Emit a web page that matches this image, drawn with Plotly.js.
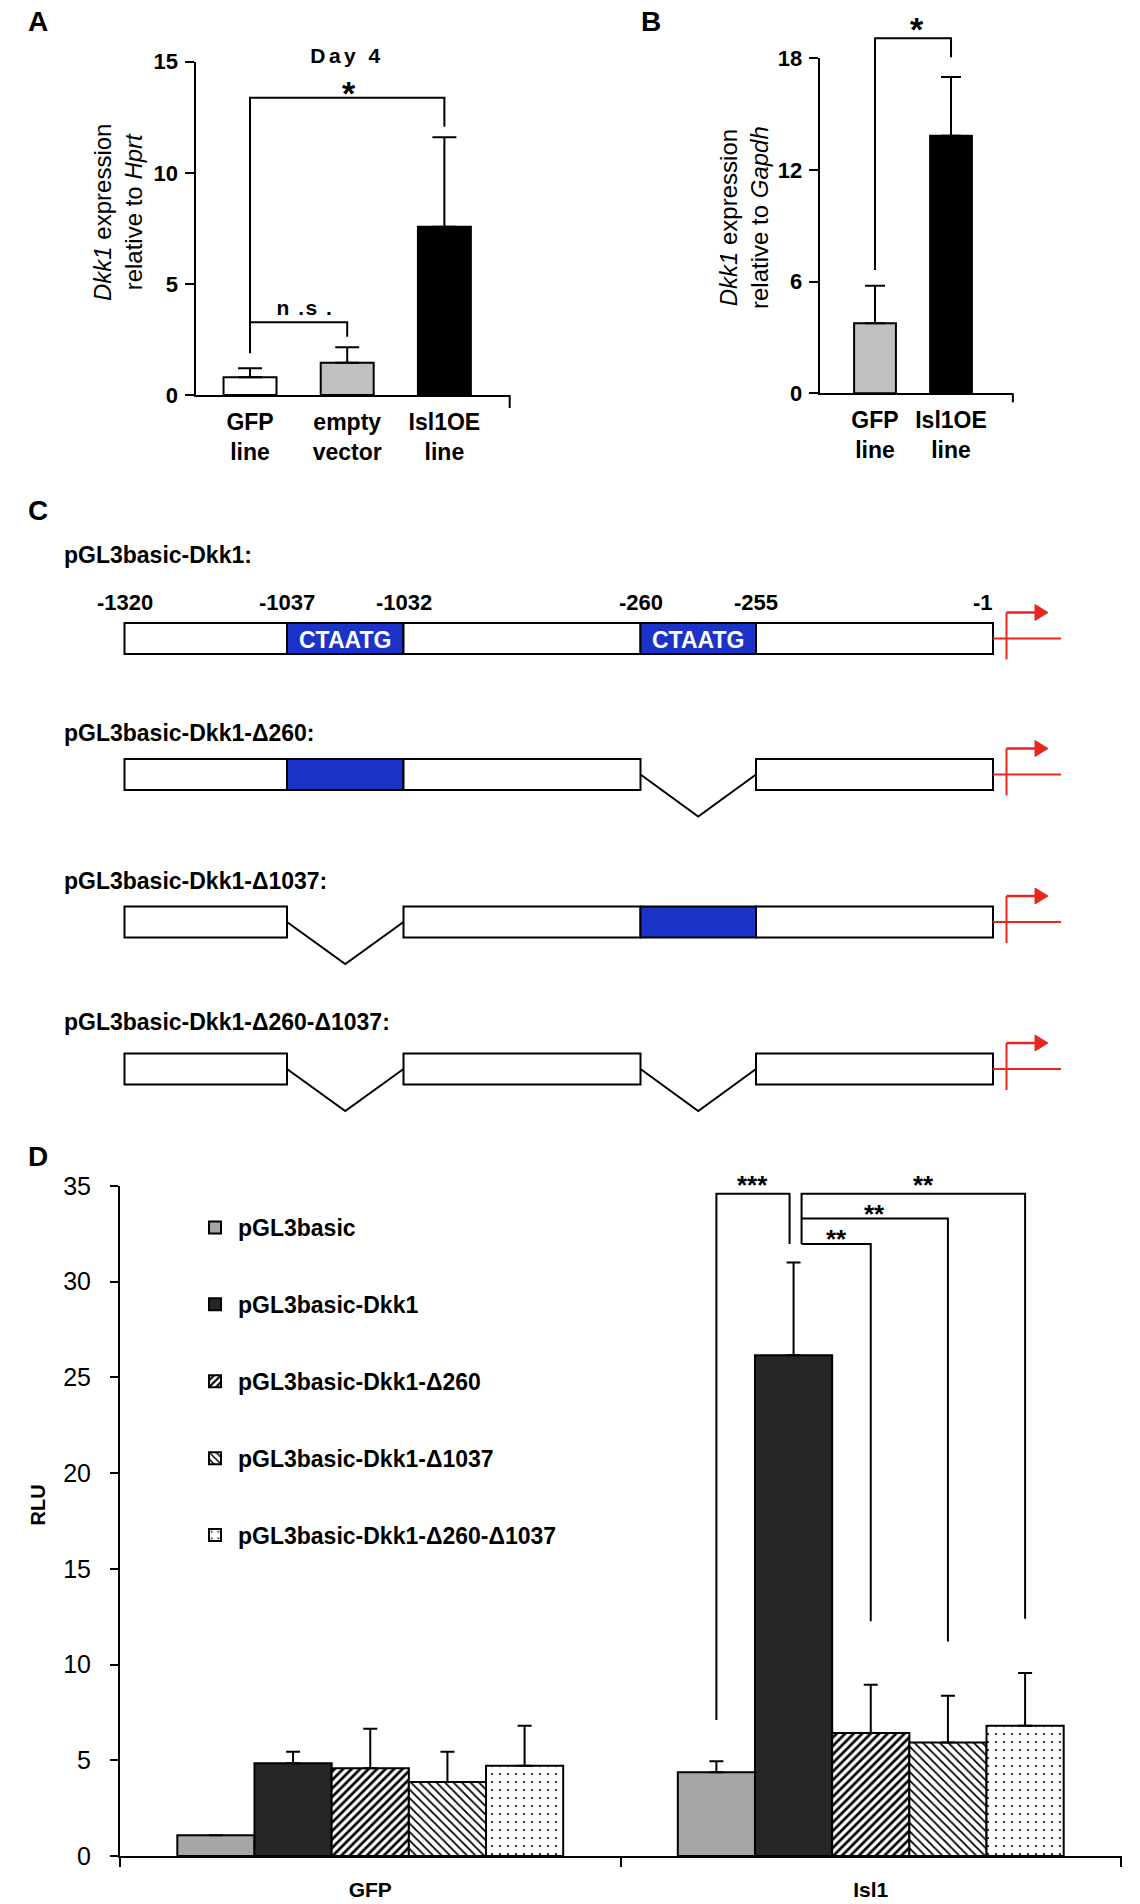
<!DOCTYPE html>
<html>
<head>
<meta charset="utf-8">
<script src="https://cdn.plot.ly/plotly-3.0.1.min.js"></script>
<style>
html,body{margin:0;padding:0;background:#fff;}
#chart{width:1140px;height:1904px;}
</style>
</head>
<body>
<div id="chart"></div>
<script>
// ---------------- DATA ----------------
// Panel A
const aCategories = ['GFP<br>line', 'empty<br>vector', 'Isl1OE<br>line'];
const aMeans = [0.8, 1.45, 7.57];
const aSem = [0.4, 0.7, 4.03];
const aTicks = [0, 5, 10, 15];
const aTitle = '<i>Dkk1</i> expression<br>relative to <i>Hprt</i>';
const aHeader = 'Day 4';
const aSigLabels = ['*', 'n .s .'];

// Panel B
const bCategories = ['GFP<br>line', 'Isl1OE<br>line'];
const bMeans = [3.76, 13.84];
const bSem = [2.02, 3.16];
const bTicks = [0, 6, 12, 18];
const bTitle = '<i>Dkk1</i> expression<br>relative to <i>Gapdh</i>';
const bSigLabels = ['*'];

// Panel C
const cConstructs = ['pGL3basic-Dkk1:', 'pGL3basic-Dkk1-Δ260:', 'pGL3basic-Dkk1-Δ1037:', 'pGL3basic-Dkk1-Δ260-Δ1037:'];
const cPositions = ['-1320', '-1037', '-1032', '-260', '-255', '-1'];
const cMotif = 'CTAATG';
const cDeletedSegments = [[], [3], [1], [1, 3]];

// Panel D
const dGroups = ['GFP', 'Isl1'];
const dSeries = ['pGL3basic', 'pGL3basic-Dkk1', 'pGL3basic-Dkk1-Δ260', 'pGL3basic-Dkk1-Δ1037', 'pGL3basic-Dkk1-Δ260-Δ1037'];
const dGFP = [1.08, 4.85, 4.59, 3.87, 4.71];
const dIsl1 = [4.38, 26.16, 6.42, 5.93, 6.80];
const dGFPSem = [0, 0.59, 2.06, 1.57, 2.09];
const dIsl1Sem = [0.57, 4.84, 2.53, 2.44, 2.76];
const dTicks = [0, 5, 10, 15, 20, 25, 30, 35];
const dSigLabels = ['***', '**', '**', '**'];

// ---------------- LAYOUT HELPERS ----------------
const W = 1140, H = 1904;
const px = x => x / W;
const py = y => 1 - y / H;
const FONT = 'Liberation Sans, Arial, Helvetica, sans-serif';

const axA = {x: {domain: [px(195.5), px(509.7)], range: [-0.561, 2.672]}, y: {domain: [py(395), py(61.7)], range: [0, 15]}};
const axB = {x: {domain: [px(819.6), px(1012.9)], range: [-0.729, 1.814]}, y: {domain: [py(393.3), py(58.3)], range: [0, 18]}};
const axD = {x: {domain: [px(120), px(1121)], range: [-0.5, 1.5]}, y: {domain: [py(1856), py(1186)], range: [0, 35]}};

function mx(ax, v) { return ax.x.domain[0] + (v - ax.x.range[0]) / (ax.x.range[1] - ax.x.range[0]) * (ax.x.domain[1] - ax.x.domain[0]); }
function my(ax, v) { return ax.y.domain[0] + (v - ax.y.range[0]) / (ax.y.range[1] - ax.y.range[0]) * (ax.y.domain[1] - ax.y.domain[0]); }
const pxW = 1 / W, pxH = 1 / H;

const shapes = [];
const annotations = [];
function line(path, color, width) {
  shapes.push({type: 'path', xref: 'paper', yref: 'paper', path: path, line: {color: color || '#000', width: width || 2}, layer: 'above'});
}
function label(x, y, text, size, opts) {
  annotations.push(Object.assign({xref: 'paper', yref: 'paper', x: x, y: y, text: text, showarrow: false,
    xanchor: 'center', yanchor: 'middle', font: {family: FONT, size: size, color: '#000'}}, opts || {}));
}
const P = (x, y) => x + ',' + y;

// ---------------- TRACES ----------------
const traces = [];
traces.push({type: 'bar', x: aCategories, y: aMeans, xaxis: 'x', yaxis: 'y', width: 0.545, showlegend: false,
  marker: {color: ['#ffffff', '#c0c0c0', '#000000'], line: {color: '#000', width: 2}},
  error_y: {type: 'data', symmetric: false, array: aSem, arrayminus: aSem.map(() => 0), color: '#000', thickness: 2, width: 12}});
traces.push({type: 'bar', x: bCategories, y: bMeans, xaxis: 'x2', yaxis: 'y2', width: 0.55, showlegend: false,
  marker: {color: ['#c0c0c0', '#000000'], line: {color: '#000', width: 2}},
  error_y: {type: 'data', symmetric: false, array: bSem, arrayminus: bSem.map(() => 0), color: '#000', thickness: 2, width: 10}});

const dStyles = [
  {color: '#a6a6a6'},
  {color: '#262626'},
  {color: '#ffffff', pattern: {shape: '/', fgcolor: '#000', bgcolor: '#fff', size: 6, solidity: 0.45}},
  {color: '#ffffff', pattern: {shape: '\\', fgcolor: '#000', bgcolor: '#fff', size: 6, solidity: 0.3}},
  {color: '#ffffff', pattern: {shape: '.', fgcolor: '#000', bgcolor: '#fff', size: 8, solidity: 0.06}}
];
dSeries.forEach((name, i) => {
  traces.push({type: 'bar', name: name, x: dGroups, y: [dGFP[i], dIsl1[i]], xaxis: 'x4', yaxis: 'y4',
    legendgroup: 'g' + i,
    marker: Object.assign({line: {color: '#000', width: 2}}, dStyles[i]),
    error_y: {type: 'data', symmetric: false, array: [dGFPSem[i], dIsl1Sem[i]], arrayminus: [0, 0], color: '#000', thickness: 2, width: 7}});
});

// ---------------- PANEL A decorations ----------------
label(px(38), py(22), '<b>A</b>', 28);
label(mx(axA, 1), py(55), '<b>' + aHeader + '</b>', 21);
label(px(118), py(213), aTitle, 24, {textangle: -90});
{
  const xg = mx(axA, 0), xe = mx(axA, 1), xi = mx(axA, 2);
  line('M' + P(xg, my(axA, 1.88)) + ' V' + my(axA, 13.38) + ' H' + xi + ' V' + my(axA, 12.07));
  line('M' + P(xg, my(axA, 3.27)) + ' H' + xe + ' V' + my(axA, 2.62));
  label(xe + 2 * pxW, my(axA, 13.38) + 5 * pxH, '<b>' + aSigLabels[0] + '</b>', 34);
  label((xg + xe) / 2 + 6 * pxW, my(axA, 3.27) + 15 * pxH, '<b>' + aSigLabels[1] + '</b>', 21);
  line('M' + P(axA.x.domain[1], axA.y.domain[0]) + ' V' + (axA.y.domain[0] - 13 * pxH));
}

// ---------------- PANEL B decorations ----------------
label(px(651), py(22), '<b>B</b>', 28);
label(px(744), py(218), bTitle, 24, {textangle: -90});
{
  const xg = mx(axB, 0), xi = mx(axB, 1);
  line('M' + P(xg, my(axB, 6.63)) + ' V' + my(axB, 19.08) + ' H' + xi + ' V' + my(axB, 18.05));
  label((xg + xi) / 2 + 4 * pxW, my(axB, 19.08) + 9 * pxH, '<b>' + bSigLabels[0] + '</b>', 34);
  line('M' + P(axB.x.domain[1], axB.y.domain[0]) + ' V' + (axB.y.domain[0] - 9 * pxH));
}

// ---------------- PANEL C (schematic) ----------------
label(px(38), py(511), '<b>C</b>', 28);
{
  const bounds = [124.5, 287, 403.5, 640.5, 756, 993];   // schematic pixel layout of the 5 promoter segments
  const mids = [638.5, 774.5, 922, 1069];
  const labelY = [555, 733, 881, 1022];
  const hBox = 31, vDepth = 42;
  const BLUE = '#1b33c9', RED = '#e8261e';
  cConstructs.forEach((name, r) => {
    const m = mids[r];
    label(px(62), py(labelY[r]), '<b>' + name + '</b>', 23, {xanchor: 'left'});
    for (let s = 0; s < 5; s++) {
      const x0 = bounds[s], x1 = bounds[s + 1];
      if (cDeletedSegments[r].indexOf(s) >= 0) {
        line('M' + P(px(x0), py(m)) + ' L' + P(px((x0 + x1) / 2), py(m + vDepth)) + ' L' + P(px(x1), py(m)));
        continue;
      }
      const motif = (s === 1 || s === 3);
      shapes.push({type: 'rect', xref: 'paper', yref: 'paper', x0: px(x0), x1: px(x1), y0: py(m + hBox / 2), y1: py(m - hBox / 2),
        fillcolor: motif ? BLUE : '#fff', line: {color: '#000', width: 2}, layer: 'above'});
      if (motif && r === 0) {
        label(px((x0 + x1) / 2), py(m + 1), '<b>' + cMotif + '</b>', 23, {font: {family: FONT, size: 23, color: '#fff'}});
      }
    }
    // red transcription start arrow
    const ax = 1006.5;
    line('M' + P(px(ax), py(m - 26)) + ' V' + py(m + 21), RED, 2);
    line('M' + P(px(bounds[5]), py(m)) + ' H' + px(1061), RED, 2);
    line('M' + P(px(ax), py(m - 26)) + ' H' + px(1038), RED, 2.5);
    shapes.push({type: 'path', xref: 'paper', yref: 'paper', layer: 'above',
      path: 'M' + P(px(1035), py(m - 34)) + ' L' + P(px(1048), py(m - 26)) + ' L' + P(px(1035), py(m - 18)) + ' Z',
      fillcolor: RED, line: {color: RED, width: 1}});
  });
  cPositions.forEach((t, i) => {
    const last = i === cPositions.length - 1;
    label(px(last ? bounds[i] + 2 : bounds[i]), py(602), '<b>' + t + '</b>', 22, last ? {xanchor: 'right'} : {});
  });
}

// ---------------- PANEL D decorations ----------------
label(px(38), py(1156), '<b>D</b>', 28);
label(px(37.5), py(1505), '<b>RLU</b>', 20, {textangle: -90});
{
  const bargap = 0.229;
  const bw = (1 - bargap) / dSeries.length;
  const cx = (g, i) => mx(axD, g - (1 - bargap) / 2 + (i + 0.5) * bw);
  const x0 = cx(1, 0), x1 = cx(1, 1) - 4 * pxW, x1b = cx(1, 1) + 8 * pxW;
  const yTop = my(axD, 34.6), yMid = my(axD, 33.3), yLow = my(axD, 31.97);
  line('M' + P(x0, my(axD, 7.1)) + ' V' + yTop + ' H' + x1 + ' V' + yLow);
  line('M' + P(x1b, yLow) + ' V' + yTop + ' H' + cx(1, 4) + ' V' + my(axD, 12.39));
  line('M' + P(x1b, yMid) + ' H' + cx(1, 3) + ' V' + my(axD, 11.21));
  line('M' + P(x1b, yLow) + ' H' + cx(1, 2) + ' V' + my(axD, 12.26));
  label((x0 + x1) / 2, yTop + 9 * pxH, '<b>' + dSigLabels[0] + '</b>', 26);
  label((x1b + cx(1, 4)) / 2 + 10 * pxW, yTop + 9 * pxH, '<b>' + dSigLabels[1] + '</b>', 26);
  label((x1b + cx(1, 3)) / 2, yMid + 5 * pxH, '<b>' + dSigLabels[2] + '</b>', 26);
  label((x1b + cx(1, 2)) / 2, yLow + 5 * pxH, '<b>' + dSigLabels[3] + '</b>', 26);
  line('M' + P(axD.x.domain[1], axD.y.domain[0]) + ' V' + (axD.y.domain[0] - 9 * pxH));
}

// ---------------- AXES ----------------
const baseAx = {showgrid: false, zeroline: false, showline: true, linecolor: '#000', linewidth: 2, fixedrange: true,
  tickcolor: '#000', tickwidth: 2};
const layout = {
  width: W, height: H, margin: {l: 0, r: 0, t: 0, b: 0}, paper_bgcolor: '#fff', plot_bgcolor: 'rgba(0,0,0,0)',
  barmode: 'group', bargap: 0.229, bargroupgap: 0, showlegend: true,
  font: {family: FONT, color: '#000'},
  xaxis: Object.assign({}, baseAx, {domain: axA.x.domain, range: axA.x.range, type: 'category', anchor: 'y', ticks: '',
    tickfont: {family: FONT, size: 23, weight: 'bold'}, ticklabelstandoff: 5}),
  yaxis: Object.assign({}, baseAx, {domain: axA.y.domain, range: axA.y.range, anchor: 'x', tickvals: aTicks, ticks: 'outside', ticklen: 9,
    tickfont: {family: FONT, size: 22, weight: 'bold'}, ticklabelstandoff: 2}),
  xaxis2: Object.assign({}, baseAx, {domain: axB.x.domain, range: axB.x.range, type: 'category', anchor: 'y2', ticks: '',
    tickfont: {family: FONT, size: 23, weight: 'bold'}, ticklabelstandoff: 5}),
  yaxis2: Object.assign({}, baseAx, {domain: axB.y.domain, range: axB.y.range, anchor: 'x2', tickvals: bTicks, ticks: 'outside', ticklen: 9,
    tickfont: {family: FONT, size: 22, weight: 'bold'}, ticklabelstandoff: 2}),
  xaxis4: Object.assign({}, baseAx, {domain: axD.x.domain, range: axD.x.range, type: 'category', anchor: 'y4', ticks: 'outside', ticklen: 9,
    tickson: 'boundaries', tickfont: {family: FONT, size: 21, weight: 'bold'}, ticklabelstandoff: 14}),
  yaxis4: Object.assign({}, baseAx, {domain: axD.y.domain, range: axD.y.range, anchor: 'x4', tickvals: dTicks, ticks: 'outside', ticklen: 8,
    tickfont: {family: FONT, size: 25}, ticklabelstandoff: 14}),
  legend: {x: px(192), y: py(1206), xanchor: 'left', yanchor: 'top', bgcolor: 'rgba(0,0,0,0)', tracegroupgap: 44,
    font: {family: FONT, size: 23, weight: 'bold', color: '#000'}, itemwidth: 36, traceorder: 'grouped'},
  shapes: shapes, annotations: annotations
};

Plotly.newPlot('chart', traces, layout, {staticPlot: true, displayModeBar: false}).then(gd => {
  const spacing = {'Day 4': '3.5px', 'n .s .': '1.5px'};
  gd.querySelectorAll('.annotation-text').forEach(t => {
    const s = spacing[t.textContent];
    if (s) t.style.letterSpacing = s;
  });
});
</script>
</body>
</html>
